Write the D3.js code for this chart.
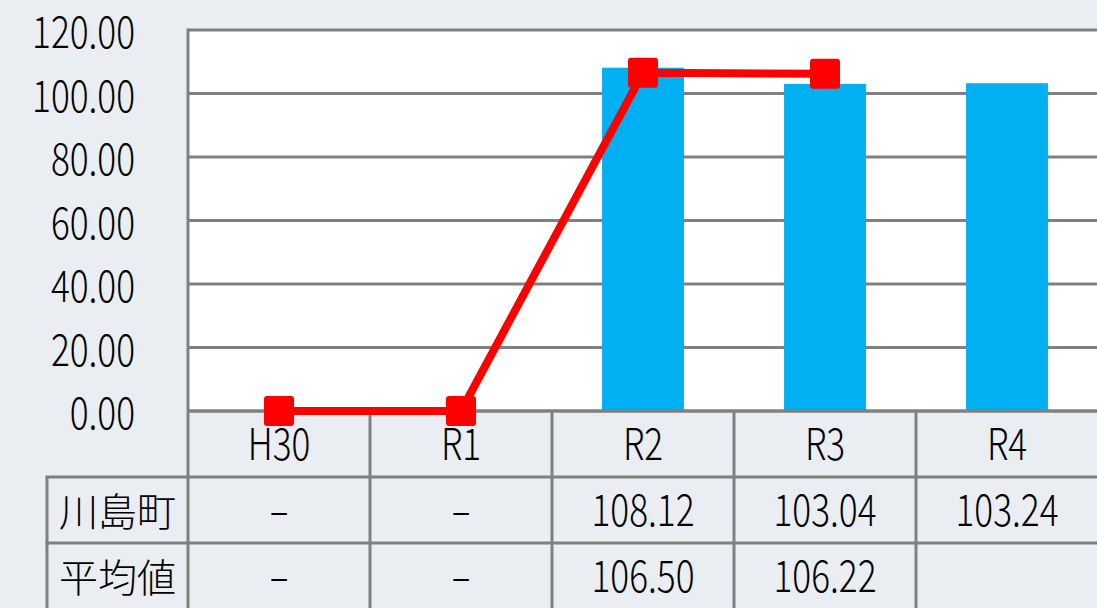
<meta charset="utf-8" />
<script src="https://d3js.org/d3.v7.min.js"></script>
<style>
  body { margin: 0; background: #eaedf2; }
  text { font-family: 'Noto Sans CJK JP', 'Noto Sans', sans-serif; fill: #000; font-weight: 300; }
</style>
<div id="chart"></div>
<script>
  // data
  const categories = ['H30', 'R1', 'R2', 'R3', 'R4'];
  const kawajimaValues = [0, 0, 108.12, 103.04, 103.24]; // bars
  const averageLine = [0, 0, 106.5, 106.22];              // line as plotted ("-" drawn at 0)
  const rowLabels = ['川島町', '平均値'];
  const kawajimaText = ['–', '–', '108.12', '103.04', '103.24'];
  const averageText = ['–', '–', '106.50', '106.22', ''];
  const yTicks = [0, 20, 40, 60, 80, 100, 120];

  const width = 1097, height = 608;
  const plotLeft = 188, plotRight = 1098, plotTop = 30, plotBottom = 411;
  const rowH = 66, labelLeft = 47;
  const gridColor = '#808080';

  const svg = d3.select('#chart').append('svg')
    .attr('width', width).attr('height', height);

  const x = d3.scaleBand().domain(categories).range([plotLeft, plotRight]).padding(0);
  const y = d3.scaleLinear().domain([0, 120]).range([plotBottom, plotTop]);

  // white plot area
  svg.append('rect')
    .attr('x', plotLeft).attr('y', plotTop)
    .attr('width', plotRight - plotLeft).attr('height', plotBottom - plotTop)
    .attr('fill', '#fff');

  // gridlines
  svg.append('g').selectAll('line').data(yTicks).join('line')
    .attr('x1', plotLeft).attr('x2', width)
    .attr('y1', d => y(d)).attr('y2', d => y(d))
    .attr('stroke', gridColor).attr('stroke-width', 3);

  // y tick labels (condensed look)
  svg.append('g').selectAll('text').data(yTicks).join('text')
    .attr('transform', d => `translate(135,${y(d) - 1}) scale(0.8,1)`)
    .attr('text-anchor', 'end')
    .attr('dominant-baseline', 'central')
    .style('font-size', '44px')
    .text(d => d3.format('.2f')(d));

  // bars
  const barW = x.bandwidth() * 0.45;
  svg.append('g').selectAll('rect').data(kawajimaValues).join('rect')
    .attr('x', (d, i) => x(categories[i]) + (x.bandwidth() - barW) / 2)
    .attr('y', d => y(d))
    .attr('width', barW)
    .attr('height', d => y(0) - y(d))
    .attr('fill', '#00b0f0');

  // table lines
  const tbl = svg.append('g').attr('stroke', gridColor).attr('stroke-width', 3);
  tbl.append('line').attr('x1', plotLeft).attr('x2', plotLeft).attr('y1', plotTop - 1.5).attr('y2', height);
  tbl.append('line').attr('x1', plotLeft).attr('x2', width).attr('y1', plotBottom).attr('y2', plotBottom);
  categories.slice(1).forEach(c => {
    tbl.append('line').attr('x1', x(c)).attr('x2', x(c)).attr('y1', plotBottom).attr('y2', height);
  });
  [1, 2].forEach(r => {
    tbl.append('line').attr('x1', labelLeft - 1.5).attr('x2', width)
      .attr('y1', plotBottom + r * rowH).attr('y2', plotBottom + r * rowH);
  });
  tbl.append('line').attr('x1', labelLeft).attr('x2', labelLeft)
    .attr('y1', plotBottom + rowH).attr('y2', height);

  // line series
  const cx = i => x(categories[i]) + x.bandwidth() / 2;
  svg.append('path')
    .datum(averageLine)
    .attr('fill', 'none')
    .attr('stroke', '#ff0000')
    .attr('stroke-width', 8)
    .attr('stroke-linejoin', 'round')
    .attr('d', d3.line().x((d, i) => cx(i)).y(d => y(d)));
  svg.append('g').selectAll('rect').data(averageLine).join('rect')
    .attr('x', (d, i) => cx(i) - 15).attr('y', d => y(d) - 15)
    .attr('width', 30).attr('height', 30).attr('rx', 3)
    .attr('fill', '#ff0000');

  // category header and table values
  const numText = (sel, tx, ty) => sel
    .attr('transform', `translate(${tx},${ty}) scale(0.8,1)`)
    .attr('text-anchor', 'middle')
    .attr('dominant-baseline', 'central')
    .style('font-size', '44px');

  categories.forEach((c, i) => {
    numText(svg.append('text'), cx(i), plotBottom + rowH / 2 - 3).text(c);
    numText(svg.append('text'), cx(i), plotBottom + rowH * 1.5 - 3).text(kawajimaText[i]);
    numText(svg.append('text'), cx(i), plotBottom + rowH * 2.5 - 3).text(averageText[i]);
  });

  rowLabels.forEach((t, r) => {
    svg.append('text')
      .attr('x', (labelLeft + plotLeft) / 2)
      .attr('y', plotBottom + rowH * (1.5 + r) - 1)
      .attr('text-anchor', 'middle')
      .attr('dominant-baseline', 'central')
      .style('font-size', '39px')
      .text(t);
  });
</script>
